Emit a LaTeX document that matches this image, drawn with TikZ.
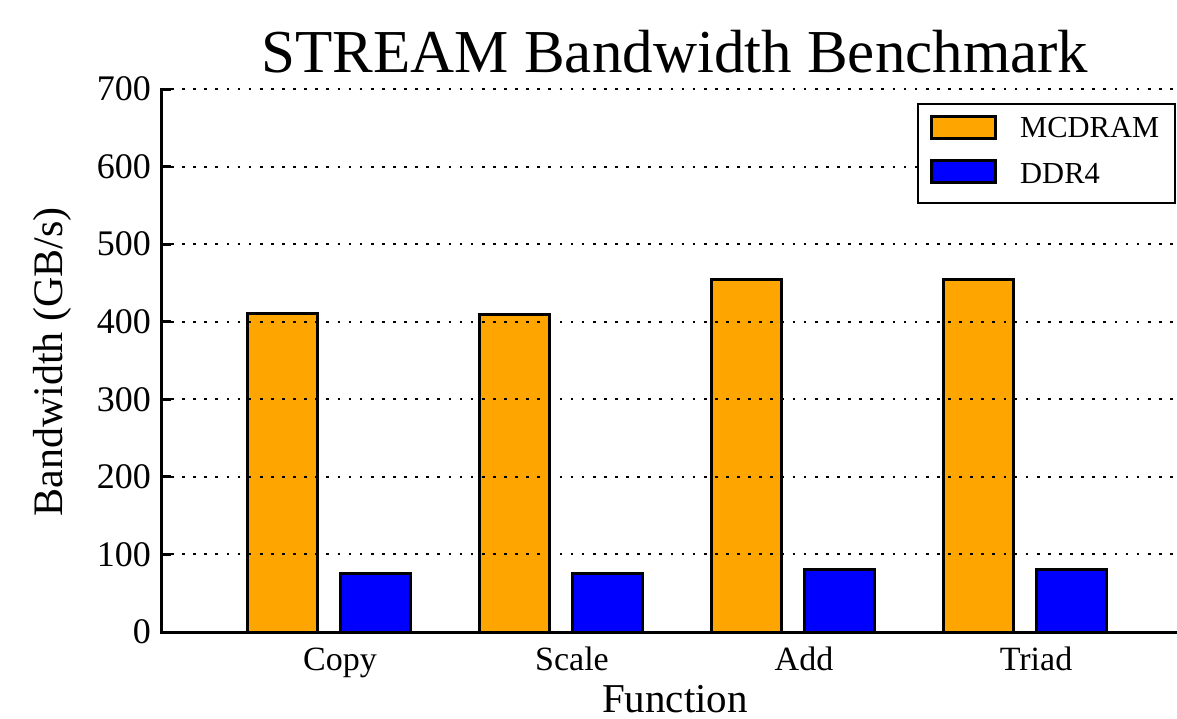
\documentclass[tikz,border=0pt]{standalone}
\usepackage{fontspec}
\setmainfont{Liberation Serif}
\definecolor{mcorange}{HTML}{FFA500}
\definecolor{ddrblue}{HTML}{0000FF}
\begin{document}
\begin{tikzpicture}[x=1pt,y=-1pt,
  barbox/.style={draw=black,line width=3pt,line join=miter},
  gridline/.style={line width=1.9pt,dash pattern=on 2.7pt off 8.4pt,black},
  axisline/.style={line width=3pt,black},
  ticklab/.style={font=\fontsize{36}{36}\selectfont,anchor=east,inner sep=0pt},
  xlab/.style={font=\fontsize{34}{34}\selectfont,anchor=base,inner sep=0pt},
  leglab/.style={font=\fontsize{30.5}{30.5}\selectfont,anchor=west,inner sep=0pt},
]
\useasboundingbox (0,0) rectangle (1177,719);
\clip (0,0) rectangle (1177,719);
% y: value v -> 632 - 0.7757 v
% bars
\foreach \i/\o/\b/\nm in {0/410/75/Copy,1/409/75/Scale,2/455/80/Add,3/454/80/Triad}{
  \pgfmathsetmacro{\xl}{247+232*\i}
  \pgfmathsetmacro{\yo}{632-0.7757*\o}
  \pgfmathsetmacro{\yb}{632-0.7757*\b}
  \filldraw[barbox,fill=mcorange] (\xl,632) rectangle (\xl+70,\yo);
  \filldraw[barbox,fill=ddrblue] (\xl+93,632) rectangle (\xl+163,\yb);
  \node[xlab] (xl\i) at (\xl+93,670) {\nm};
}
% grid lines, ticks, labels
\foreach \v in {100,200,...,700}{
  \pgfmathsetmacro{\yy}{632-0.7757*\v}
  \draw[gridline] (171,\yy) -- (1177,\yy);
  \draw[axisline] (161,\yy) -- (171,\yy);
}
\foreach \v in {0,100,...,700}{
  \pgfmathsetmacro{\yy}{632-0.7757*\v}
  \node[ticklab] (yt\v) at (151,\yy) {\v};
}
% axes
\draw[axisline] (161,88) -- (161,632) -- (1177,632);
% legend
\filldraw[draw=black,fill=white,line width=2.8pt] (918,104) rectangle (1175,203);
\filldraw[barbox,fill=mcorange] (931,117) rectangle (995,139);
\filldraw[barbox,fill=ddrblue] (931,161) rectangle (995,183);
\node[leglab] (lm) at (1020,128) {MCDRAM};
\node[leglab] (ld) at (1020,173) {DDR4};
% titles
\node[font=\fontsize{61}{61}\selectfont,anchor=base,inner sep=0pt] (title) at (675,73) {STREAM Bandwidth Benchmark};
\node[font=\fontsize{41}{41}\selectfont,anchor=base,inner sep=0pt] (xt) at (675,712) {Function};
\node[font=\fontsize{42}{42}\selectfont,rotate=90,inner sep=0pt] (yl) at (52,362) {Bandwidth (GB/s)};
\end{tikzpicture}
\end{document}
